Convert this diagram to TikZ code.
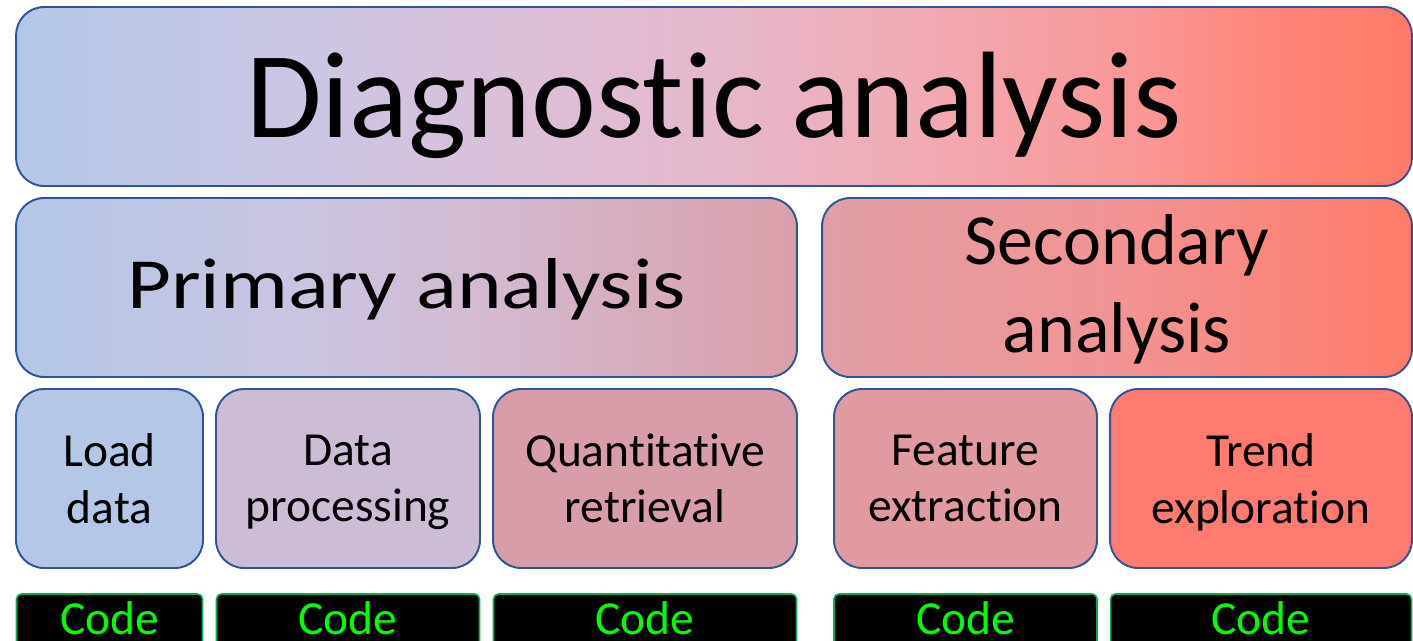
\documentclass[tikz,border=0pt]{standalone}
\usepackage{fontspec}
\setmainfont[Ligatures=NoCommon]{Carlito}
\usepackage{xcolor}
\usepackage{tikz}
\usetikzlibrary{positioning, calc}

\definecolor{edgeblue}{HTML}{2F5597}
\definecolor{codeedge}{HTML}{00B050}
\definecolor{codegreen}{HTML}{00FF00}
\definecolor{loadfill}{HTML}{B4C7E7}
\definecolor{procfill}{HTML}{CDBCD6}
\definecolor{quantfill}{HTML}{D99DA9}
\definecolor{featfill}{HTML}{E09AA0}
\definecolor{trendfill}{HTML}{FF7B70}

% stops live between 25bp and 75bp, the part TikZ fits onto the box
\pgfdeclarehorizontalshading{diaggrad}{100bp}{color(0bp)=(loadfill); color(25bp)=(loadfill); color(35bp)=(rgb,255:red,202;green,198;blue,228); color(43.5bp)=(rgb,255:red,221;green,191;blue,216); color(50bp)=(rgb,255:red,229;green,184;blue,204); color(57.5bp)=(rgb,255:red,242;green,170;blue,179); color(65bp)=(rgb,255:red,249;green,152;blue,152); color(70bp)=(rgb,255:red,255;green,133;blue,121); color(75bp)=(rgb,255:red,255;green,122;blue,103); color(100bp)=(rgb,255:red,255;green,122;blue,103)}
\pgfdeclarehorizontalshading{primgrad}{100bp}{color(0bp)=(loadfill); color(25bp)=(loadfill); color(42.5bp)=(rgb,255:red,201;green,197;blue,226); color(55bp)=(rgb,255:red,212;green,186;blue,209); color(75bp)=(rgb,255:red,218;green,159;blue,169); color(100bp)=(rgb,255:red,218;green,159;blue,169)}
\pgfdeclarehorizontalshading{secgrad}{100bp}{color(0bp)=(rgb,255:red,224;green,158;blue,164); color(25bp)=(rgb,255:red,224;green,158;blue,164); color(50bp)=(rgb,255:red,242;green,148;blue,149); color(75bp)=(rgb,255:red,255;green,123;blue,105); color(100bp)=(rgb,255:red,255;green,123;blue,105)}

\begin{document}
\begin{tikzpicture}[
    x=0.02cm, y=-0.02cm,
    panel/.style={rectangle, draw=edgeblue, line width=1.1pt, rounded corners=0.56cm, minimum height=3.58cm, align=center, inner sep=0pt},
    bigtext/.style={font=\fontsize{70}{85}\selectfont, text depth=0.06cm},
    midtext/.style={font=\fontsize{41}{50}\selectfont, text depth=0.16cm},
    task/.style={panel, font=\fontsize{27}{32}\selectfont, text depth=0pt},
    codebox/.style={rectangle, draw=codeedge, line width=0.9pt, fill=black, text=codegreen, rounded corners=0.1cm, anchor=base, inner xsep=0pt, inner ysep=0pt, text height=0.8cm, text depth=0.5cm, font=\fontsize{27}{32}\selectfont}
]
\useasboundingbox (0,0) rectangle (1413,640);

% top level
\node[panel, bigtext, shading=diaggrad, minimum width=27.92cm] (diag) at (714,96.5) {Diagnostic analysis};

% second level
\node[panel, midtext, shading=primgrad, minimum width=15.62cm] (primary) at (406.5,287.5) {\scalebox{1.18}[1]{Primary analysis}};
\node[panel, midtext, shading=secgrad, minimum width=11.8cm] (secondary) at (1117,287.5) {Secondary\\analysis};

% tasks
\node[task, fill=loadfill, minimum width=3.74cm] (load) at (109.5,478.5) {Load\\data};
\node[task, fill=procfill, minimum width=5.28cm] (proc) at (348,478.5) {Data\\processing};
\node[task, fill=quantfill, minimum width=6.08cm] (quant) at (645,478.5) {Quantitative\\retrieval};
\node[task, fill=featfill, minimum width=5.26cm] (feat) at (965.5,478.5) {Feature\\extraction};
\node[task, fill=trendfill, minimum width=6.04cm] (trend) at (1261,478.5) {Trend\\exploration};

% code links
\node[codebox, minimum width=3.72cm] (loadcode) at (load.south |- 0,634) {Code};
\node[codebox, minimum width=5.26cm] (proccode) at (proc.south |- 0,634) {Code};
\node[codebox, minimum width=6.06cm] (quantcode) at (quant.south |- 0,634) {Code};
\node[codebox, minimum width=5.26cm] (featcode) at (feat.south |- 0,634) {Code};
\node[codebox, minimum width=6.02cm] (trendcode) at (trend.south |- 0,634) {Code};

\end{tikzpicture}
\end{document}
